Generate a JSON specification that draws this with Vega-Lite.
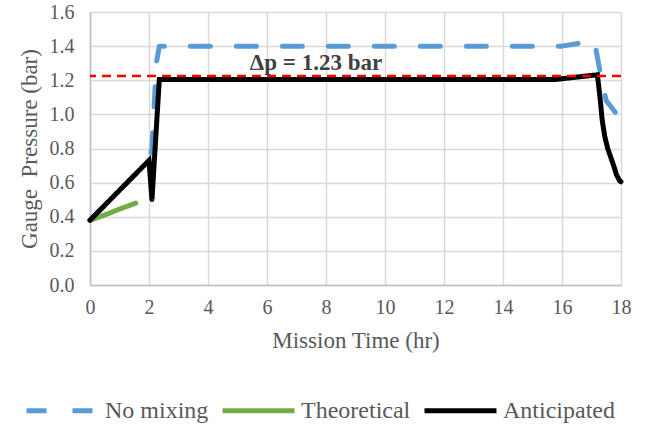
{
  "$schema": "https://vega.github.io/schema/vega-lite/v6.json",
  "width": 531,
  "height": 273,
  "autosize": {"type": "none"},
  "padding": {"left": 90, "top": 12, "right": 26, "bottom": 142},
  "background": "white",
  "config": {
    "view": {"stroke": null},
    "font": "Liberation Serif",
    "axis": {
      "labelFont": "Liberation Serif",
      "titleFont": "Liberation Serif",
      "labelColor": "#595959",
      "titleColor": "#595959",
      "labelFontSize": 20,
      "titleFontSize": 23,
      "titleFontWeight": "normal",
      "gridColor": "#D9D9D9",
      "gridWidth": 1.5,
      "domainColor": "#BFBFBF",
      "domainWidth": 1.5,
      "ticks": false,
      "labelOverlap": false,
      "labelFlush": false,
      "labelBound": false
    },
    "legend": {
      "labelFont": "Liberation Serif",
      "labelFontSize": 24,
      "labelColor": "#595959"
    }
  },
  "datasets": {
    "series": [
      {"series": "No mixing", "t": 0, "p": 0.38},
      {"series": "No mixing", "t": 2.0, "p": 0.73},
      {"series": "No mixing", "t": 2.1, "p": 0.8},
      {"series": "No mixing", "t": 2.25, "p": 1.3},
      {"series": "No mixing", "t": 2.35, "p": 1.4},
      {"series": "No mixing", "t": 16.0, "p": 1.4},
      {"series": "No mixing", "t": 17.1, "p": 1.43},
      {"series": "No mixing", "t": 17.3, "p": 1.24},
      {"series": "No mixing", "t": 17.5, "p": 1.08},
      {"series": "No mixing", "t": 18.0, "p": 0.97},
      {"series": "Theoretical", "t": 0, "p": 0.38},
      {"series": "Theoretical", "t": 0.5, "p": 0.41},
      {"series": "Theoretical", "t": 1.0, "p": 0.445},
      {"series": "Theoretical", "t": 1.55, "p": 0.48},
      {"series": "Anticipated", "t": 0, "p": 0.38},
      {"series": "Anticipated", "t": 2.0, "p": 0.73},
      {"series": "Anticipated", "t": 2.1, "p": 0.5},
      {"series": "Anticipated", "t": 2.35, "p": 1.205},
      {"series": "Anticipated", "t": 8.0, "p": 1.205},
      {"series": "Anticipated", "t": 15.8, "p": 1.205},
      {"series": "Anticipated", "t": 17.2, "p": 1.232},
      {"series": "Anticipated", "t": 17.3, "p": 1.08},
      {"series": "Anticipated", "t": 17.36, "p": 0.97},
      {"series": "Anticipated", "t": 17.45, "p": 0.87},
      {"series": "Anticipated", "t": 17.55, "p": 0.8},
      {"series": "Anticipated", "t": 17.65, "p": 0.75},
      {"series": "Anticipated", "t": 17.75, "p": 0.7},
      {"series": "Anticipated", "t": 17.85, "p": 0.645},
      {"series": "Anticipated", "t": 17.95, "p": 0.612},
      {"series": "Anticipated", "t": 18.0, "p": 0.605}
    ]
  },
  "encoding": {
    "x": {
      "field": "t", "type": "quantitative",
      "scale": {"domain": [0, 18], "nice": false},
      "axis": {"values": [0, 2, 4, 6, 8, 10, 12, 14, 16, 18], "title": "Mission Time (hr)", "labelPadding": 12, "titlePadding": 12, "grid": true}
    },
    "y": {
      "field": "p", "type": "quantitative",
      "scale": {"domain": [0, 1.6], "nice": false},
      "axis": {"values": [0, 0.2, 0.4, 0.6, 0.8, 1.0, 1.2, 1.4, 1.6], "format": ".1f", "title": "Gauge\u00a0 Pressure (bar)", "labelPadding": 16, "titlePadding": 8, "grid": true}
    }
  },
  "layer": [
    {
      "data": {"name": "series"},
      "transform": [{"filter": "datum.series === 'No mixing'"}],
      "mark": {"type": "line", "strokeWidth": 5, "strokeCap": "round", "strokeJoin": "round"},
      "encoding": {
        "color": {
          "field": "series", "type": "nominal",
          "scale": {"domain": ["No mixing", "Theoretical", "Anticipated"], "range": ["#5B9BD5", "#70AD47", "#000000"]},
          "legend": {
            "title": null,
            "orient": "none",
            "direction": "horizontal",
            "legendX": -66,
            "legendY": 360,
            "symbolType": "stroke",
            "symbolSize": 5184,
            "symbolStrokeWidth": 5,
            "labelOffset": 4,
            "columnPadding": 3
          }
        },
        "strokeDash": {
          "field": "series", "type": "nominal",
          "scale": {"domain": ["No mixing", "Theoretical", "Anticipated"], "range": [[20, 26], [1, 0], [1, 0]]},
          "legend": {
            "title": null,
            "orient": "none",
            "direction": "horizontal",
            "legendX": -66,
            "legendY": 360,
            "symbolType": "stroke",
            "symbolSize": 5184,
            "symbolStrokeWidth": 5,
            "labelOffset": 4,
            "columnPadding": 3
          }
        },
        "order": {"field": "t"}
      }
    },
    {
      "data": {"name": "series"},
      "transform": [{"filter": "datum.series === 'Theoretical'"}],
      "mark": {"type": "line", "strokeWidth": 5, "strokeCap": "round", "strokeJoin": "round"},
      "encoding": {
        "color": {"field": "series", "type": "nominal"},
        "strokeDash": {"field": "series", "type": "nominal"},
        "order": {"field": "t"}
      }
    },
    {
      "data": {"name": "series"},
      "transform": [{"filter": "datum.series === 'Anticipated'"}],
      "mark": {"type": "line", "strokeWidth": 5, "strokeCap": "round", "strokeJoin": "miter"},
      "encoding": {
        "color": {"field": "series", "type": "nominal"},
        "strokeDash": {"field": "series", "type": "nominal"},
        "order": {"field": "t"}
      }
    },
    {
      "data": {"values": [{"dp": 1.225}]},
      "mark": {"type": "rule", "color": "#FF0000", "strokeWidth": 2.5, "strokeDash": [9, 6]},
      "encoding": {"x": null, "y": {"field": "dp", "type": "quantitative"}}
    },
    {
      "data": {"values": [{"t": 7.66, "p": 1.26, "label": "Δp = 1.23 bar"}]},
      "mark": {"type": "text", "font": "Liberation Serif", "fontSize": 23, "fontWeight": "bold", "color": "#404040", "align": "center", "baseline": "alphabetic"},
      "encoding": {
        "text": {"field": "label"}
      }
    }
  ]
}
